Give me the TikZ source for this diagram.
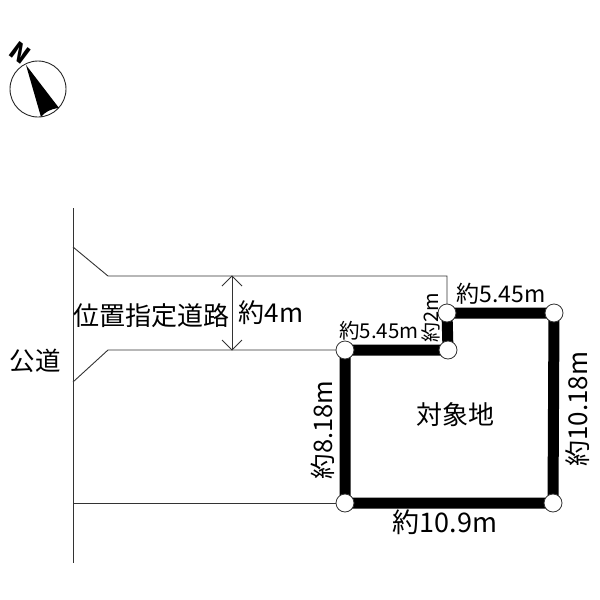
\documentclass[tikz,border=0pt]{standalone}
\usepackage{fontspec}
\setmainfont{Noto Sans CJK JP}
\begin{document}
\begin{tikzpicture}[x=1pt,y=-1pt,
 thinln/.style={draw=black!80,line width=0.9pt},
 lotln/.style={draw=black,line width=11pt},
 corner/.style={circle,draw=black!80,fill=white,line width=0.8pt,minimum size=18pt,inner sep=0pt},
 lab/.style={inner sep=0pt,font=\fontsize{#1}{#1}\selectfont},
 lab/.default=21pt]
\useasboundingbox (0,0) rectangle (600,600);
\coordinate (rt) at (73,208); \coordinate (rb) at (73,563);
\coordinate (u1) at (73,247); \coordinate (u2) at (108,276); \coordinate (u3) at (447,276);
\coordinate (l1) at (73,382); \coordinate (l2) at (108,350);
\coordinate (b1) at (73,503);
\coordinate (dt) at (232,276); \coordinate (db) at (232,350);
\node[corner,draw=none,fill=none] (A) at (345,350) {};
\node[corner,draw=none,fill=none] (B) at (448,350) {};
\node[corner,draw=none,fill=none] (C) at (447,313) {};
\node[corner,draw=none,fill=none] (D) at (554,313) {};
\node[corner,draw=none,fill=none] (E) at (553,503) {};
\node[corner,draw=none,fill=none] (F) at (345,503) {};
\draw[thinln] (rt) -- (rb);
\draw[thinln] (u1) -- (u2) -- (u3) -- (C.center);
\draw[thinln] (l1) -- (l2) -- (A.center);
\draw[thinln] (b1) -- (F.center);
\draw[thinln] (dt) -- (db);
\draw[thinln] (222,286) -- (dt) -- (242,286);
\draw[thinln] (222,340) -- (db) -- (242,340);
\draw[lotln,line join=miter] (A.center) -- (B.center) -- (C.center) -- (D.center) -- (E.center) -- (F.center) -- cycle;
\foreach \n in {A,B,C,D,E,F} \node[corner] at (\n) {};
\node[lab=26pt,anchor=center] (road) at (151,316) {位置指定道路};
\node[lab=26pt,anchor=center] (w) at (271,313) {約4m};
\node[lab=25.5pt,anchor=center] (pub) at (35,361) {公道};
\node[lab=26pt,anchor=center] (site) at (455,415) {対象地};
\node[lab=20.5pt,anchor=center] (t1) at (379,331) {約5.45m};
\node[lab=23pt,anchor=center] (t2) at (501,294) {約5.45m};
\node[lab=20pt,anchor=center,rotate=90] (t3) at (431,318) {約2m};
\node[lab=25.5pt,anchor=center,rotate=90] (t4) at (323,430) {約8.18m};
\node[lab=26pt,anchor=center,rotate=90] (t5) at (578,409) {約10.18m};
\node[lab=27pt,anchor=center] (t6) at (445,522) {約10.9m};
% north mark
\node[circle,draw=black!85,line width=0.9pt,minimum size=56pt,inner sep=0pt] (comp) at (38,89) {};
\fill[black] (26,65) -- (59,108) .. controls (50,109) and (45,112) .. (41,117) -- cycle;
\node[inner sep=0pt,rotate=-37,font=\fontsize{24pt}{24pt}\bfseries\selectfont] (north) at (20,53) {N};
\end{tikzpicture}
\end{document}
